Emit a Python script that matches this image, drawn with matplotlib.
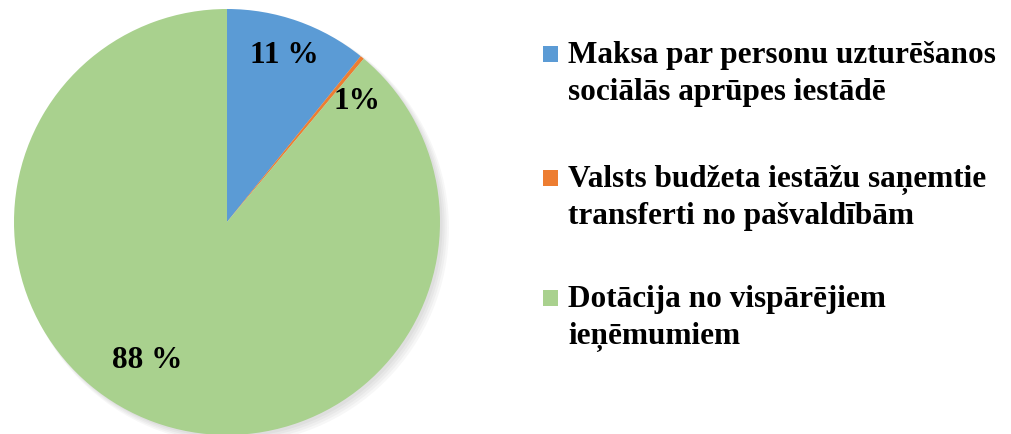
import matplotlib.pyplot as plt
from matplotlib.patches import Rectangle, Circle

categories = [
    ["Maksa par personu uzturēšanos", "sociālās aprūpes iestādē"],
    ["Valsts budžeta iestāžu saņemtie", "transferti no pašvaldībām"],
    ["Dotācija no vispārējiem", "ieņēmumiem"],
]
shares = [10.8, 0.3, 88.9]
pct_labels = ["11 %", "1%", "88 %"]
colors = ["#5B9BD5", "#ED7D31", "#A9D18E"]

W, H = 1011, 434
fig = plt.figure(figsize=(W / 100, H / 100), dpi=100)
plt.rcParams["font.family"] = ["Liberation Serif", "DejaVu Serif"]

# pie axes: centre (227, 222) px, radius 213 px
cx, cy, r = 227, 222, 213
ax = fig.add_axes([(cx - r) / W, (H - cy - r) / H, 2 * r / W, 2 * r / H])

# soft shadow
for i in range(4):
    ax.add_patch(Circle((0.012 + i * 0.006, -0.012 - i * 0.006), 1.0 + i * 0.004,
                        color="black", alpha=0.03, lw=0, zorder=0, clip_on=False))

wedges, _ = ax.pie(shares, colors=colors, startangle=90, counterclock=False,
                   radius=1.0, wedgeprops=dict(linewidth=0))
for w in wedges:
    w.set_zorder(2)
    w.set_clip_on(False)
ax.set_xlim(-1, 1)
ax.set_ylim(-1, 1)
ax.set_aspect("equal")
ax.axis("off")

# percentage labels (pixel positions converted to data coords)
label_px = [(284, 55), (357, 101), (147, 360)]
for (px, py), txt in zip(label_px, pct_labels):
    ax.text((px - cx) / r, (cy - py) / r, txt, ha="center", va="center",
            fontsize=22.5, fontweight="bold", color="black", zorder=5)

# legend drawn by hand
first_line_y = [63, 187, 307]
line_gap = 37
for y, lines, c in zip(first_line_y, categories, colors):
    fig.patches.append(Rectangle((543 / W, 1 - (y - 1) / H), 15 / W, 16 / H,
                                 transform=fig.transFigure, color=c, lw=0))
    for k, line in enumerate(lines):
        fig.text(568 / W, 1 - (y + k * line_gap) / H, line, ha="left",
                 va="baseline", fontsize=22.5, fontweight="bold")

fig.savefig("out.png", dpi=100)
